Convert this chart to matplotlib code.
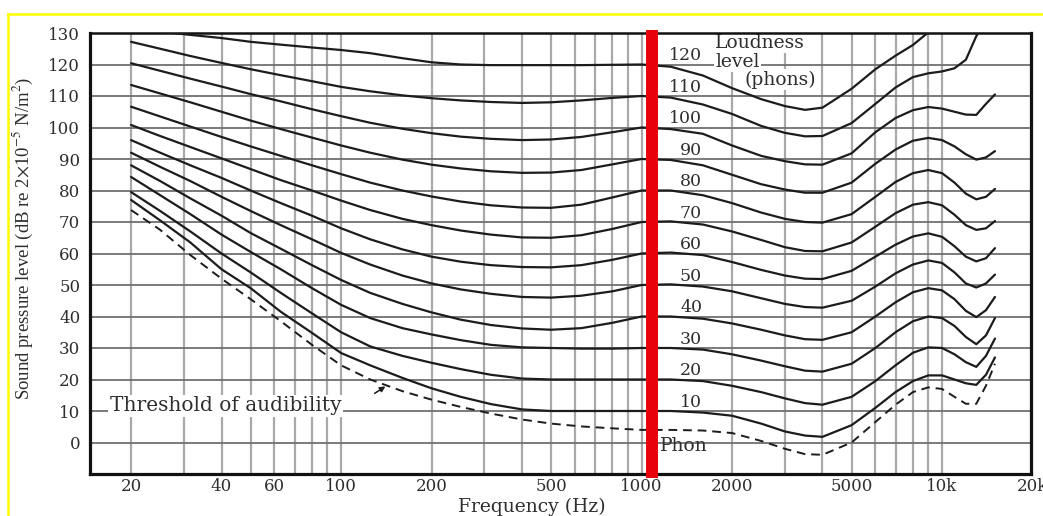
import numpy as np
import matplotlib
matplotlib.use("Agg")
import matplotlib.pyplot as plt
from matplotlib.lines import Line2D
from matplotlib.ticker import NullLocator

plt.rcParams['font.family'] = ['DejaVu Serif']
plt.rcParams['mathtext.fontset'] = 'stix'

# ---------------- data ----------------
FREQ = [20, 25, 31.5, 40, 50, 63, 80, 100, 125, 160, 200, 250, 315, 400, 500, 630, 800,
        1000, 1250, 1600, 2000, 2500, 3000, 3500, 4000, 5000, 6000, 7000, 8000, 9000,
        10000, 11000, 12000, 13000, 14000, 15000]
nan = float('nan')
PHON_120 = [133.0, 130.4, 129.4, 128.4, 127.2, 126.3, 125.4, 124.6, 123.6, 122.0, 120.7, 120.0,
            119.8, 119.8, 119.8, 119.8, 119.9, 120.0, 119.3, 116.5, 112.5, 109.0, 106.8, 105.6,
            106.3, 112.3, 118.5, 122.8, 126.2, 130.2, 134.0, nan, nan, nan, nan, nan]
PHON_110 = [127.2, 125.0, 122.7, 120.5, 118.5, 116.6, 114.7, 112.9, 111.5, 110.2, 109.3, 108.6,
            108.1, 107.8, 108.0, 108.6, 109.4, 110.0, 109.5, 107.3, 104.3, 100.5, 98.3, 97.2,
            97.3, 101.4, 107.5, 112.7, 116.0, 117.2, 117.8, 118.8, 121.5, 129.0, 134.0, nan]
PHON_100 = [120.4, 118.0, 115.5, 113.0, 110.6, 108.3, 105.8, 103.6, 101.5, 99.6, 98.2, 97.1,
            96.4, 96.0, 96.2, 97.0, 98.5, 100.0, 99.5, 98.0, 94.3, 91.0, 89.3, 88.3,
            88.2, 91.8, 98.5, 103.0, 105.5, 106.5, 106.0, 105.0, 104.1, 104.0, 107.5, 110.5]
PHON_90 = [113.5, 110.8, 108.0, 105.0, 102.2, 99.5, 96.8, 94.3, 92.0, 89.8, 88.2, 87.0,
           86.1, 85.6, 85.7, 86.5, 88.3, 90.0, 89.7, 88.0, 85.0, 82.0, 80.3, 79.3,
           79.3, 82.5, 88.5, 93.0, 95.8, 96.7, 96.0, 94.0, 91.5, 89.8, 90.5, 92.5]
PHON_80 = [106.6, 103.5, 100.3, 97.0, 94.0, 91.0, 88.0, 85.2, 82.5, 80.0, 78.1, 76.5,
           75.3, 74.6, 74.5, 75.5, 77.8, 80.0, 80.0, 78.5, 76.0, 73.0, 71.0, 70.0,
           69.8, 72.5, 78.0, 82.7, 85.5, 86.5, 85.5, 82.5, 79.0, 77.2, 78.0, 80.5]
PHON_70 = [100.8, 97.3, 93.8, 90.2, 86.8, 83.3, 80.0, 76.8, 73.8, 71.0, 69.0, 67.3,
           66.0, 65.1, 65.0, 65.8, 67.8, 70.0, 70.2, 69.2, 67.0, 64.3, 62.0, 60.8,
           60.7, 63.5, 68.5, 72.8, 75.5, 76.3, 75.3, 72.3, 69.0, 67.5, 68.0, 70.3]
PHON_60 = [96.0, 92.0, 88.0, 84.0, 80.0, 76.0, 72.0, 68.0, 64.5, 61.3, 59.0, 57.4,
           56.3, 55.7, 55.6, 56.3, 58.0, 60.0, 60.3, 59.5, 57.3, 54.8, 53.0, 52.0,
           51.9, 54.5, 59.0, 62.8, 65.4, 66.4, 65.3, 62.3, 59.0, 57.5, 58.5, 61.7]
PHON_50 = [92.0, 87.5, 83.0, 78.0, 73.5, 69.0, 64.5, 60.2, 56.5, 53.0, 50.5, 48.6,
           47.2, 46.2, 46.0, 46.6, 48.0, 50.0, 50.2, 49.5, 48.0, 45.8, 44.0, 43.0,
           42.8, 45.0, 49.5, 53.7, 56.5, 57.8, 57.0, 54.0, 50.5, 49.2, 50.5, 53.3]
PHON_40 = [88.0, 83.0, 77.5, 72.0, 66.5, 61.5, 56.3, 51.6, 47.5, 44.0, 41.3, 39.0,
           37.3, 36.2, 35.8, 36.3, 38.0, 40.0, 40.0, 39.3, 37.8, 35.8, 34.0, 32.8,
           32.6, 35.0, 40.0, 44.5, 47.7, 49.0, 48.3, 45.5, 41.8, 39.8, 42.0, 46.2]
PHON_30 = [84.3, 78.5, 72.5, 66.0, 60.5, 55.0, 49.0, 43.7, 39.5, 36.3, 34.3, 32.5,
           31.0, 30.2, 30.0, 29.8, 29.8, 30.0, 30.0, 29.5, 28.0, 26.0, 24.2, 22.8,
           22.5, 25.0, 30.0, 35.0, 38.5, 40.0, 39.5, 37.0, 33.5, 31.2, 34.0, 39.5]
PHON_20 = [79.5, 73.5, 67.0, 60.0, 54.0, 47.5, 41.0, 35.0, 30.5, 27.5, 25.3, 23.3,
           21.5, 20.3, 20.0, 20.0, 20.0, 20.0, 20.0, 19.5, 18.0, 16.0, 14.0, 12.5,
           12.0, 14.5, 19.5, 24.5, 28.5, 30.2, 30.0, 28.0, 25.5, 24.0, 27.5, 33.0]
PHON_10 = [77.0, 70.5, 63.5, 55.0, 49.0, 41.5, 34.8, 28.4, 24.5, 20.5, 17.2, 14.5,
           12.2, 10.5, 10.0, 10.0, 10.0, 10.0, 10.0, 9.5, 8.5, 6.0, 3.5, 2.2,
           1.8, 5.5, 11.0, 16.0, 19.5, 21.3, 21.3, 20.0, 18.8, 18.3, 21.5, 27.0]
THRESHOLD = [73.8, 67.5, 59.5, 52.0, 45.5, 38.5, 31.0, 24.5, 20.0, 16.3, 13.6, 11.3,
             9.2, 7.3, 6.0, 5.1, 4.5, 4.0, 4.0, 3.8, 3.0, 0.5, -2.0, -3.7,
             -3.9, 0.0, 6.5, 12.0, 16.0, 17.5, 17.0, 14.5, 12.3, 12.3, 18.0, 25.0]

CURVES = [PHON_120, PHON_110, PHON_100, PHON_90, PHON_80, PHON_70,
          PHON_60, PHON_50, PHON_40, PHON_30, PHON_20, PHON_10]
PHON_LABELS = [120, 110, 100, 90, 80, 70, 60, 50, 40, 30, 20, 10]

Y_TICKS = list(range(0, 131, 10))
X_TICKS = [20, 40, 60, 100, 200, 500, 1000, 2000, 5000, 10000]
X_TICK_LABELS = ['20', '40', '60', '100', '200', '500', '1000', '2000', '5000', '10k']
GRID_FREQS = ([20, 30, 40, 50, 60, 70, 80, 90, 100] +
              [200, 300, 400, 500, 600, 700, 800, 900, 1000] +
              [2000, 3000, 4000, 5000, 6000, 7000, 8000, 9000, 10000])
GRID_LEVELS = list(range(0, 130, 10))
RED_LINE_HZ = 1080

TXT = '#2e2e2e'
INK = '#1c1c1c'

# ---------------- figure ----------------
fig = plt.figure(figsize=(10.43, 5.16), dpi=100)
ax = fig.add_axes([90 / 1043, 42 / 516, 941 / 1043, 441 / 516])
ax.set_xscale('log')
ax.set_xlim(14.6, 19770)
ax.set_ylim(-10, 130)

for f in GRID_FREQS:
    ax.axvline(f, color='#a9a9a9', lw=1.6, zorder=1)
for lv in GRID_LEVELS:
    ax.axhline(lv, color='#707070', lw=1.3, zorder=1)

for vals in CURVES:
    ax.plot(FREQ, vals, color=INK, lw=1.6, zorder=3, solid_capstyle='round')
ax.plot(FREQ, THRESHOLD, color=INK, lw=1.4, ls=(0, (4.5, 3)), zorder=3)

ax.axvline(RED_LINE_HZ, ymin=-0.009, ymax=1.007, color='#e8000b', lw=8.6,
           clip_on=False, zorder=6, solid_capstyle='butt')

# ticks
ax.set_xticks(X_TICKS)
ax.set_xticklabels(X_TICK_LABELS)
ax.xaxis.set_minor_locator(NullLocator())
ax.set_yticks(Y_TICKS)
ax.tick_params(axis='both', length=0, labelsize=12, labelcolor=TXT)
ax.tick_params(axis='x', pad=3)
ax.tick_params(axis='y', pad=7)
ax.text(20000, -4 / 441, '20k', transform=ax.get_xaxis_transform(), ha='center',
        va='top', fontsize=12, color=TXT, clip_on=False)

for side in ['left', 'bottom', 'right']:
    ax.spines[side].set_linewidth(2.3)
    ax.spines[side].set_color('#111111')
ax.spines['top'].set_linewidth(1.8)
ax.spines['top'].set_color('#111111')

# phon labels
for p in PHON_LABELS:
    ax.text(1590, p + 2.7, str(p), ha='right', va='center', fontsize=12.5, color=TXT, zorder=4)
ax.text(1150, -1.0, 'Phon', ha='left', va='center', fontsize=13.5, color=TXT, zorder=4)

box = dict(facecolor='white', edgecolor='none', pad=1.0)
ax.text(1756, 126.8, 'Loudness', ha='left', va='center', fontsize=13.5, color=TXT,
        bbox=box, zorder=2)
ax.text(1756, 120.8, 'level', ha='left', va='center', fontsize=13.5, color=TXT,
        bbox=box, zorder=2)
ax.text(2208, 115.1, '(phons)', ha='left', va='center', fontsize=13.5, color=TXT,
        bbox=box, zorder=2)

ax.text(17.0, 11.6, 'Threshold of audibility', ha='left', va='center', fontsize=14.5,
        color=TXT, bbox=box, zorder=2)
ax.annotate('', xy=(143, 18.3), xytext=(127, 15.1),
            arrowprops=dict(arrowstyle='-|>', lw=1.1, color=INK, mutation_scale=8),
            zorder=4)

# axis labels
fig.text(532 / 1043, 1 - 507 / 516, 'Frequency (Hz)', ha='center', va='center',
         fontsize=13.5, color=TXT)
fig.text(23 / 1043, 1 - 238 / 516,
         r'Sound pressure level (dB re 2$\times$10$^{-5}$ N/m$^2$)',
         rotation=90, ha='center', va='center', fontsize=13.5, color=TXT,
         family='Liberation Serif')

# yellow frame
fig.add_artist(Line2D([8 / 1043, 1.0], [1 - 14 / 516] * 2, transform=fig.transFigure,
                      color='#ffff00', lw=1.8))
fig.add_artist(Line2D([8 / 1043] * 2, [0.0, 1 - 14 / 516], transform=fig.transFigure,
                      color='#ffff00', lw=1.8))

fig.savefig('out.png', dpi=100, facecolor='white')
